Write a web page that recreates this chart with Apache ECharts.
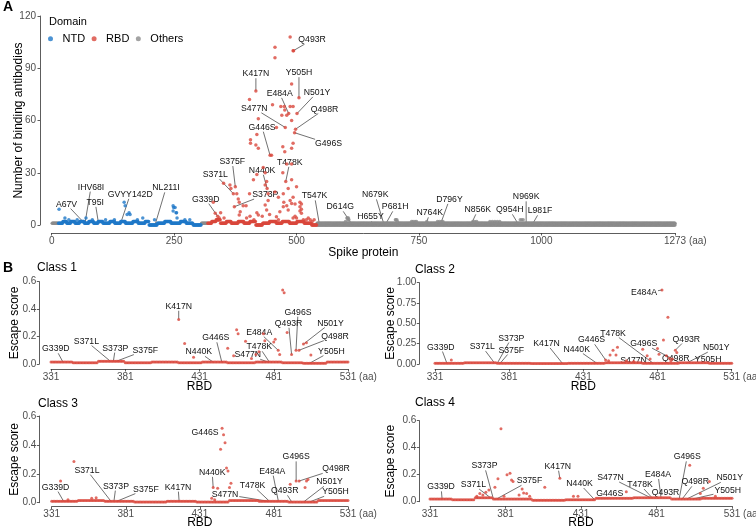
<!DOCTYPE html>
<html><head><meta charset="utf-8">
<script src="https://cdn.jsdelivr.net/npm/echarts@6/dist/echarts.min.js"></script>
<style>html,body{margin:0;padding:0;background:#fff}#c{width:756px;height:528px}</style>
</head><body><div id="c"></div>
<script>
// ---------------- DATA ----------------
const spikeTicks = [0, 250, 500, 750, 1000, 1273];
const rbdTicks = [331, 381, 431, 481, 531];
const domainNames = ['NTD', 'RBD', 'Others'];

// Panel A: baseline runs [startPos, endPos, antibodies]
const ntdRuns = [[14,22,1],[23,30,2],[31,38,1],[39,47,2],[48,56,1],[57,66,2],[67,75,1],[76,85,2],[86,94,1],[95,104,2],[105,118,1],[119,128,2],[129,140,1],[141,150,2],[151,165,1],[166,176,2],[177,190,1],[191,198,2],[199,215,0],[216,230,1],[231,243,2],[244,262,1],[263,274,2],[275,288,1],[289,305,0]];
const rbdRuns = [[319,326,1],[327,335,2],[336,344,3],[345,356,1],[357,366,2],[367,380,1],[381,392,2],[393,404,1],[405,416,2],[417,430,0],[431,444,1],[445,458,2],[459,470,1],[471,485,2],[486,500,1],[501,515,2],[516,530,1],[531,541,0]];
const othersRuns = [[1,13,1],[306,318,1],[542,1273,0],[542,1273,1]];
// Panel A: individual higher points [pos, antibodies]
const ntdPeaks = [[15,9],[27,4],[35,3],[52,3],[70,4],[83,3],[110,3],[128,3],[148,13],[150,11],[154,6],[158,7],[160,6],[175,3],[186,4],[210,3],[248,11],[249,10],[252,10],[248,8],[254,7],[255,7],[256,4],[272,3],[282,3]];
const rbdPeaks = [[487,108],[456,102],[456,96],[493,100],[494,100],[490,81],[417,77],[505,73],[404,72],[451,69],[476,66],[487,68],[493,68],[468,68],[475,68],[484,64],[501,64],[470,63],[480,63],[422,61],[490,60],[459,56],[477,56],[498,55],[496,53],[419,52],[406,49],[406,47],[417,46],[422,44],[472,45],[476,42],[493,47],[490,44],[446,40],[449,40],[480,35],[490,35],[432,33],[436,30],[472,30],[419,29],[412,26],[478,25],[490,26],[436,23],[439,25],[351,24],[364,23],[366,21],[375,22],[371,18],[378,18],[404,18],[440,21],[483,21],[473,18],[456,19],[463,16],[442,18],[442,14],[381,15],[383,13],[330,13],[474,13],[487,14],[480,11],[507,13],[510,12],[497,12],[391,11],[397,11],[373,10.5],[436,11.5],[439,8.6],[473,10.5],[507,10.5],[510,9],[507,8],[419,7],[422,5.7],[385,7.6],[383,5.7],[466,7.6],[483,8.6],[490,12.4],[493,16],[500,22],[510,6.7],[514,3],[459,4.8],[334,6.7],[339,5],[342,4],[345,7],[493,4],[497,5],[340,3],[352,4],[398,4],[405,5],[413,3],[500,4],[430,5],[445,6],[463,3],[520,3],[524,4],[528,3],[532,2],[536,3]];
const othersPeaks = [[600,2],[603,4],[604,4],[605,3],[606,4],[607,3],[702,3],[703,3],[705,3],[706,2],[735,2],[738,2],[742,2],[745,2],[766,2],[788,2],[792,2],[796,2],[799,2],[860,2],[864,2],[868,2],[895,2],[900,2],[905,2],[910,2],[915,2],[957,3],[960,3],[963,3]];
const spikeMutations = ['A67V','IHV68I','T95I','GVYY142D','NL211I','G339D','S371L','S373P','S375F','K417N','N440K','G446S','S477N','T478K','E484A','Q493R','G496S','Q498R','N501Y','Y505H','T547K','D614G','H655Y','N679K','P681H','N764K','D796Y','N856K','Q954H','N969K','L981F'];

// Panel B: escape score baseline runs [start, end, score] and higher points [pos, score]
const classNames = ['Class 1','Class 2','Class 3','Class 4'];
const class1Runs = [[331,345,0.015],[346,362,0.01],[363,380,0.02],[381,398,0.01],[399,416,0.015],[417,432,0.01],[433,449,0.015],[450,468,0.01],[469,486,0.015],[487,500,0.01],[501,516,0.005],[517,531,0.015]];
const class2Runs = [[331,350,0.01],[351,372,0.015],[373,395,0.01],[396,420,0.005],[421,445,0.01],[446,470,0.015],[471,495,0.01],[496,515,0.015],[516,531,0.01]];
const class3Runs = [[331,348,0.01],[349,366,0.015],[367,386,0.01],[387,408,0.005],[409,428,0.01],[429,450,0.005],[451,470,0.015],[471,490,0.01],[491,510,0.005],[511,531,0.015]];
const class4Runs = [[331,345,0.02],[346,360,0.015],[361,372,0.03],[373,398,0.02],[399,420,0.01],[421,440,0.015],[441,465,0.025],[466,490,0.03],[491,510,0.02],[511,531,0.025]];
const class1Peaks = [[487,0.54],[488,0.52],[417,0.325],[421,0.15],[456,0.25],[457,0.22],[490,0.23],[462,0.165],[474,0.22],[475,0.17],[481,0.16],[482,0.18],[450,0.115],[484,0.1],[485,0.07],[493,0.07],[496,0.1],[498,0.1],[501,0.145],[503,0.155],[506,0.065],[454,0.06],[471,0.09],[469,0.07],[427,0.05],[466,0.04]];
const class2Peaks = [[484,0.91],[488,0.574],[485,0.295],[493,0.17],[494,0.14],[481,0.19],[471,0.18],[454,0.205],[451,0.17],[449,0.11],[453,0.11],[446,0.05],[448,0.04],[342,0.05],[489,0.07],[490,0.04],[460,0.04],[474,0.1],[476,0.06],[482,0.12],[487,0.1],[491,0.06],[465,0.03]];
const class3Peaks = [[446,0.515],[447,0.47],[448,0.415],[445,0.37],[449,0.24],[450,0.22],[440,0.105],[443,0.1],[451,0.105],[452,0.135],[439,0.03],[441,0.02],[346,0.285],[337,0.15],[496,0.15],[498,0.15],[503,0.15],[504,0.16],[502,0.105],[492,0.127],[361,0.035],[358,0.03],[342,0.02]];
const class4Peaks = [[378,0.54],[376,0.17],[382,0.2],[384,0.21],[385,0.16],[386,0.15],[374,0.107],[370,0.087],[392,0.095],[407,0.107],[417,0.173],[461,0.074],[503,0.27],[516,0.15],[512,0.1],[390,0.05],[393,0.065],[395,0.06],[366,0.05],[368,0.07],[364,0.06],[380,0.04],[362,0.04],[397,0.04],[426,0.04],[429,0.04],[510,0.06],[520,0.04]];
const rbdMutations = ['G339D','S371L','S373P','S375F','K417N','N440K','G446S','S477N','T478K','E484A','Q493R','G496S','Q498R','N501Y','Y505H'];

// ---------------- LAYOUT / STYLE ----------------
const FONT = '"Liberation Sans", Arial, Helvetica, sans-serif';
const COLORS = {NTD:'#1f78c8', RBD:'#d9473c', Others:'#8c8c8c'};
const AXC = '#333333', TXC = '#4d4d4d';
const XOFF_A = 8;
const gridA = {left:51.7, top:16, width:623.3, height:209, outerBoundsMode:'none', containLabel:false};
const panelB = [
  {grid:{left:51, top:281.7, width:297, height:82.3}, max:0.6, interval:0.2, dec:1, yOff:11.7, yGap:19, xOff:5, xGap:11.5, title:[37,268]},
  {grid:{left:435, top:282.7, width:296.7, height:81.3}, max:1, interval:0.25, dec:2, yOff:15.7, yGap:23, xOff:5, xGap:11.5, title:[415,270]},
  {grid:{left:51.7, top:416, width:296.3, height:86.7}, max:0.6, interval:0.2, dec:1, yOff:12.4, yGap:19, xOff:4, xGap:10, title:[38,404]},
  {grid:{left:430, top:420.7, width:302, height:81}, max:0.6, interval:0.2, dec:1, yOff:10.7, yGap:23, xOff:4.5, xGap:10, title:[415,402.7]}
];
panelB.forEach(p=>{p.grid.outerBoundsMode='none';p.grid.containLabel=false;});
// label offsets (px) from annotated point
const offA = {A67V:[-18,-19],IHV68I:[6,-36],T95I:[-3,-19],GVYY142D:[9,-27],NL211I:[11,-37],G339D:[-12,-17],S371L:[-18,-19],S373P:[31,-12],S375F:[-3,-25],K417N:[0,-17],N440K:[-5,-18],G446S:[-8,-28],S477N:[-31,-19],T478K:[4,-19],E484A:[-9,-20],Q493R:[19,-11],G496S:[34,11],Q498R:[29,-20],N501Y:[20,-21],Y505H:[0,-25],T547K:[-5,-29],D614G:[-12,-18],H655Y:[-2,-8],N679K:[-9,-30],P681H:[10,-18],N764K:[4,-12],D796Y:[8,-22],N856K:[7,-15],Q954H:[-9,-15],N969K:[0,-28],L981F:[8,-14]};
const offB = [
  {G339D:[-7,-13],S371L:[-24,-20],S373P:[2,-13],S375F:[29,-11],K417N:[0,-13],N440K:[-14,-10],G446S:[-6,-24],S477N:[-20,-7],T478K:[-10,-15],E484A:[-19,-18],Q493R:[-3,-31],G496S:[2,-38],Q498R:[36,-14],N501Y:[27,-21],Y505H:[22,-12]},
  {G339D:[-6,-16],S371L:[-12,-16],S373P:[14,-25],S375F:[11,-13],K417N:[-16,-20],N440K:[-20,-14],G446S:[-14,-20],S477N:[-18,-3],T478K:[-40,-30],E484A:[-18,3],Q493R:[11,-11],G496S:[-36,-19],Q498R:[-7,-4],N501Y:[29,-15],Y505H:[15,-3]},
  {G339D:[-8,-14],S371L:[-24,-31],S373P:[2,-15],S375F:[29,-12],K417N:[-1,-14],N440K:[-1,-15],G446S:[-17,4],S477N:[-43,-7],T478K:[-17,-16],E484A:[-6,-30],Q493R:[-7,-11],G496S:[0,-24],Q498R:[37,-12],N501Y:[26,-20],Y505H:[26,-10]},
  {G339D:[-1,-12],S371L:[-17,-13],S373P:[-9,-33],S375F:[33,-18],K417N:[-2,-12],N440K:[-15,-16],G446S:[6,-5],S477N:[-40,-20],T478K:[-12,-13],E484A:[-3,-23],Q493R:[-9,-6],G496S:[8,-42],Q498R:[13,-17],N501Y:[43,-21],Y505H:[35,-8]}
];

// ---------------- HELPERS ----------------
function expand(runs, peaks){const pts=[];runs.forEach(([s,e,v])=>{for(let p=s;p<=e;p++)pts.push([p,v]);});peaks.forEach(d=>pts.push([d[0],d[1]]));return pts;}
function lookup(runs, peaks, pos){const pk=peaks.find(d=>d[0]===pos);if(pk)return pk[1];const r=runs.find(([s,e])=>pos>=s&&pos<=e);return r?r[2]:null;}
function posOf(name){return parseInt(name.match(/\d+/)[0],10);}
const cv=document.createElement('canvas').getContext('2d');
function tw(t,fs){cv.font=fs+'px '+FONT;return cv.measureText(t).width;}

const classRuns=[class1Runs,class2Runs,class3Runs,class4Runs];
const classPeaks=[class1Peaks,class2Peaks,class3Peaks,class4Peaks];

function xAxisCfg(gi,min,max,ticks,off,name,gap){return {gridIndex:gi,type:'value',min:min,max:max,offset:off,
  axisLine:{show:true,onZero:false,lineStyle:{color:AXC,width:0.8}},
  axisTick:{show:true,length:2.5,customValues:ticks,lineStyle:{color:AXC,width:0.8}},
  axisLabel:{customValues:ticks,fontSize:10,color:TXC,margin:3,fontFamily:FONT,formatter:v=>String(v)},
  splitLine:{show:false},name:name,nameLocation:'middle',nameGap:gap,nameMoveOverlap:false,
  nameTextStyle:{fontSize:12,color:'#000',fontFamily:FONT,verticalAlign:'top'}};}
function yAxisCfg(gi,max,interval,off,name,gap,dec,margin){return {gridIndex:gi,type:'value',min:0,max:max,interval:interval,offset:off,
  axisLine:{show:true,onZero:false,lineStyle:{color:AXC,width:0.8}},
  axisTick:{show:true,length:2.5,lineStyle:{color:AXC,width:0.8}},
  axisLabel:{fontSize:10,color:TXC,margin:margin,fontFamily:FONT,formatter:v=>dec==null?String(v):v.toFixed(dec)},
  splitLine:{show:false},name:name,nameLocation:'middle',nameGap:gap,nameRotate:90,nameMoveOverlap:false,
  nameTextStyle:{fontSize:12,color:'#000',fontFamily:FONT}};}

const chart=echarts.init(document.getElementById('c'),null,{renderer:'canvas',width:756,height:528});
const xAxes=[xAxisCfg(0,0,1273,spikeTicks,XOFF_A,'Spike protein',14)];
const yAxes=[yAxisCfg(0,120,30,11.7,'Number of binding antibodies',15,null,4)];
const series=[
  {type:'scatter',name:'Others',xAxisIndex:0,yAxisIndex:0,data:expand(othersRuns,othersPeaks),symbolSize:3.5,itemStyle:{color:COLORS.Others},silent:true},
  {type:'scatter',name:'NTD',xAxisIndex:0,yAxisIndex:0,data:expand(ntdRuns,ntdPeaks),symbolSize:3.5,itemStyle:{color:COLORS.NTD},silent:true},
  {type:'scatter',name:'RBD',xAxisIndex:0,yAxisIndex:0,data:expand(rbdRuns,rbdPeaks),symbolSize:3.5,itemStyle:{color:COLORS.RBD},silent:true}
];
panelB.forEach((p,i)=>{
  xAxes.push(xAxisCfg(i+1,331,531,rbdTicks,p.xOff,'RBD',p.xGap));
  yAxes.push(yAxisCfg(i+1,p.max,p.interval,p.yOff,'Escape score',p.yGap,p.dec,3));
  series.push({type:'scatter',name:classNames[i],xAxisIndex:i+1,yAxisIndex:i+1,data:expand(classRuns[i],classPeaks[i]),symbolSize:3,itemStyle:{color:COLORS.RBD},silent:true});
});

chart.setOption({
  animation:false,
  grid:[gridA].concat(panelB.map(p=>p.grid)),
  xAxis:xAxes,yAxis:yAxes,series:series,
  legend:{data:domainNames,left:43,top:28.3,icon:'circle',itemWidth:14,itemHeight:5,itemGap:6.5,selectedMode:false,
    textStyle:{fontSize:11,color:'#000',fontFamily:FONT}}
});

// ---------------- ANNOTATIONS ----------------
const els=[];
function txt(t,x,y,fs,opt){opt=opt||{};els.push({type:'text',x:x,y:y,silent:true,style:{text:t,font:(opt.bold?'bold ':'')+fs+'px '+FONT,fill:opt.fill||'#000',textAlign:opt.align||'left',textVerticalAlign:opt.va||'middle',align:opt.align||'left',verticalAlign:opt.va||'middle'}});}
function anno(gi,name,val,off,fs){
  const pos=posOf(name);
  const p=chart.convertToPixel({gridIndex:gi},[pos,val]);
  const cx=p[0]+off[0],cy=p[1]+off[1];
  const w=tw(name,fs),h=fs;
  txt(name,cx,cy,fs,{align:'center',fill:'#111'});
  const bx0=cx-w/2-1,bx1=cx+w/2+1,by0=cy-h/2,by1=cy+h/2;
  const dx=cx-p[0],dy=cy-p[1];
  let tx=-Infinity,ty=-Infinity;
  if(dx>0)tx=(bx0-p[0])/dx;else if(dx<0)tx=(bx1-p[0])/dx;
  if(dy>0)ty=(by0-p[1])/dy;else if(dy<0)ty=(by1-p[1])/dy;
  const t=Math.max(tx,ty);
  if(!(t>0))return;
  const ex=p[0]+dx*t,ey=p[1]+dy*t;
  if(Math.hypot(ex-p[0],ey-p[1])<3)return;
  els.push({type:'line',silent:true,shape:{x1:p[0],y1:p[1],x2:ex,y2:ey},style:{stroke:'#111',lineWidth:0.6}});
}
const domRuns={NTD:[ntdRuns,ntdPeaks],RBD:[rbdRuns,rbdPeaks],Others:[othersRuns,othersPeaks]};
spikeMutations.forEach(m=>{
  const pos=posOf(m);let v=null;
  for(const d of ['RBD','NTD','Others']){const val=lookup(domRuns[d][0],domRuns[d][1],pos);if(val!=null){v=val;break;}}
  anno(0,m,v,offA[m],8.7);
});
panelB.forEach((p,i)=>{
  rbdMutations.forEach(m=>anno(i+1,m,lookup(classRuns[i],classPeaks[i],posOf(m)),offB[i][m],8.7));
  txt(classNames[i],p.title[0],p.title[1],12);
  const px=chart.convertToPixel({gridIndex:i+1},[531,0]);
  const axisY=p.grid.top+p.grid.height+p.xOff;
  txt(' (aa)',px[0]+tw('531',10)/2,axisY+3,10,{va:'top',fill:TXC});
});
{
  const px=chart.convertToPixel({gridIndex:0},[1273,0]);
  const axisY=gridA.top+gridA.height+XOFF_A;
  txt(' (aa)',px[0]+tw('1273',10)/2,axisY+3,10,{va:'top',fill:TXC});
}
txt('Domain',49,21.7,11);
txt('A',3,7,14,{bold:true});
txt('B',3,268,14,{bold:true});
chart.setOption({graphic:{elements:els}});
</script></body></html>
